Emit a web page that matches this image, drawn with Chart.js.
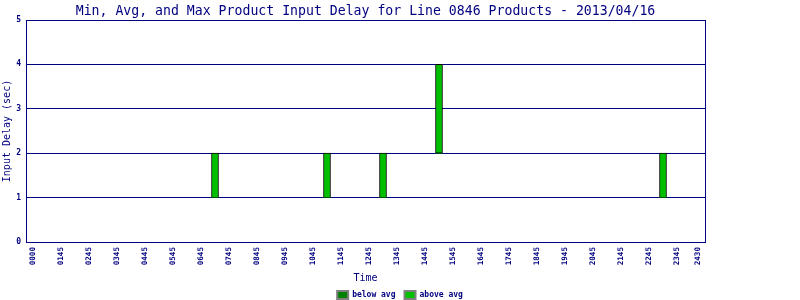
<!DOCTYPE html>
<html>
<head>
<meta charset="utf-8">
<script src="https://cdn.jsdelivr.net/npm/chart.js@4/dist/chart.umd.min.js"></script>
<style>
  html, body { margin: 0; padding: 0; background: #ffffff; }
  #wrap { width: 800px; height: 300px; }
</style>
</head>
<body>
<div id="wrap"><canvas id="c" width="800" height="300"></canvas></div>
<script>
// ---- data ----
const chartTitle = 'Min, Avg, and Max Product Input Delay for Line 0846 Products - 2013/04/16';
const seriesNames = ['below avg', 'above avg'];
// bin centres (hours of the day)
const binHours = [7.25, 11.25, 13.25, 15.25, 23.25];
const minDelay = [1, 1, 1, 2, 1];
const avgDelay = [1, 1, 1, 2, 1];
const maxDelay = [2, 2, 2, 4, 2];
// x-axis tick positions (hours) and their printed labels
const tickHours = [0.75, 1.75, 2.75, 3.75, 4.75, 5.75, 6.75, 7.75, 8.75, 9.75, 10.75, 11.75,
                   12.75, 13.75, 14.75, 15.75, 16.75, 17.75, 18.75, 19.75, 20.75, 21.75, 22.75, 23.75, 24.5];
const tickLabels = ['0000', '0145', '0245', '0345', '0445', '0545', '0645', '0745', '0845', '0945', '1045', '1145',
                    '1245', '1345', '1445', '1545', '1645', '1745', '1845', '1945', '2045', '2145', '2245', '2345', '2430'];
const yTicks = [0, 1, 2, 3, 4, 5];

// ---- styling ----
const NAVY = '#000080';
const MONO = "'DejaVu Sans Mono', 'Liberation Mono', monospace";

const belowData = binHours.map((h, i) => ({ x: h, y: [minDelay[i], avgDelay[i]] }));
const aboveData = binHours.map((h, i) => ({ x: h, y: [avgDelay[i], maxDelay[i]] }));

const legendShift = {
  id: 'legendShift',
  afterLayout(chart) {
    const lg = chart.legend;
    if (lg) { lg.top += 9; lg.bottom += 9; }
  }
};

new Chart(document.getElementById('c'), {
  type: 'bar',
  data: {
    datasets: [
      { label: seriesNames[0], data: belowData, backgroundColor: '#008000', borderColor: '#000000',
        borderWidth: 0, borderSkipped: false, barThickness: 7, grouped: false },
      { label: seriesNames[1], data: aboveData, backgroundColor: '#00c000', borderColor: '#000000',
        borderWidth: 1, borderSkipped: false, barThickness: 7, grouped: false }
    ]
  },
  plugins: [legendShift],
  options: {
    responsive: false,
    animation: false,
    devicePixelRatio: 1,
    layout: { padding: 0 },
    plugins: {
      title: {
        display: true, text: chartTitle, color: NAVY, fullSize: false,
        font: { family: MONO, size: 13.2, weight: 'normal', lineHeight: '16px' },
        padding: { top: 4, bottom: 0 }
      },
      legend: {
        position: 'bottom',
        labels: {
          font: { family: MONO, size: 8, weight: 'bold' },
          color: NAVY, boxWidth: 11, boxHeight: 8, padding: 9,
          generateLabels(chart) {
            return chart.data.datasets.map((ds, i) => ({
              text: ds.label, fillStyle: ds.backgroundColor, strokeStyle: '#808080',
              lineWidth: 2, fontColor: NAVY, datasetIndex: i, hidden: false
            }));
          }
        },
        onClick: null
      },
      tooltip: { enabled: false }
    },
    scales: {
      x: {
        type: 'linear', min: 0.5, max: 24.75, offset: false,
        grid: { display: false, drawTicks: false, offset: false },
        border: { display: true, color: NAVY, width: 1 },
        afterBuildTicks(scale) { scale.ticks = tickHours.map(v => ({ value: v })); },
        afterFit(scale) { scale.height = 31; },
        ticks: {
          autoSkip: false, minRotation: 90, maxRotation: 90, padding: 5,
          color: NAVY, font: { family: MONO, size: 7.6, weight: 'bold' },
          callback: (v, i) => tickLabels[i]
        },
        title: {
          display: true, text: 'Time', color: NAVY,
          font: { family: MONO, size: 10, weight: 'normal' },
          padding: { top: 0, bottom: -11.5 }
        }
      },
      y: {
        min: 0, max: 5,
        afterBuildTicks(scale) { scale.ticks = yTicks.map(v => ({ value: v })); },
        afterFit(scale) { scale.width = 26; },
        grid: { color: NAVY, lineWidth: 1, drawTicks: false },
        border: { display: true, color: NAVY, width: 1 },
        ticks: { padding: 5, color: NAVY, font: { family: MONO, size: 8, weight: 'bold' } },
        title: {
          display: true, text: 'Input Delay (sec)', color: NAVY,
          font: { family: MONO, size: 10, weight: 'normal' },
          padding: { top: 1.5, bottom: 0 }
        }
      },
      yR: {
        position: 'right', min: 0, max: 5,
        afterFit(scale) { scale.width = 95; },
        grid: { display: false, drawTicks: false },
        border: { display: true, color: NAVY, width: 1 },
        ticks: { display: false }
      }
    }
  }
});
</script>
</body>
</html>
